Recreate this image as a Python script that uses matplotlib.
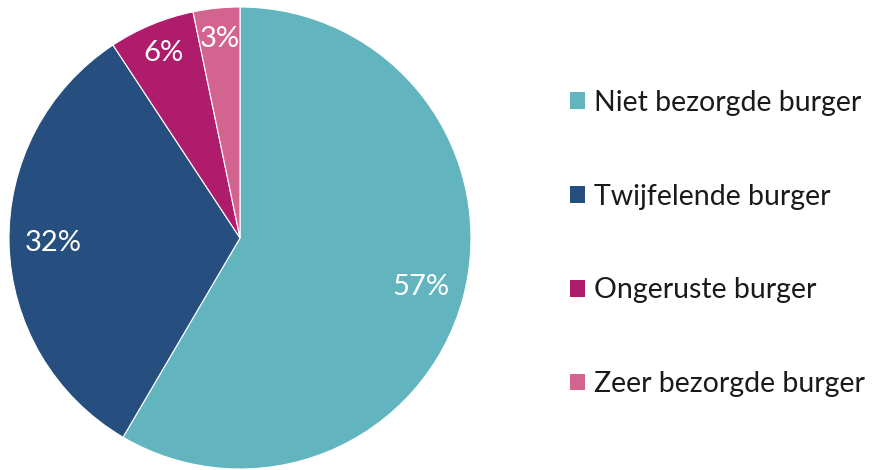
import numpy as np
import matplotlib.pyplot as plt
import matplotlib.patches as mpatches

# --- data ---------------------------------------------------------------
LABELS = ["Niet bezorgde burger", "Twijfelende burger",
          "Ongeruste burger", "Zeer bezorgde burger"]
VALUES = [57.4, 31.7, 5.9, 3.2]
COLORS = ["#62b4bf", "#264f80", "#b01c6c", "#d3638f"]
PCT_DIST = [0.81, 0.81, 0.866, 0.866]

plt.rcParams["font.family"] = ["Lato", "DejaVu Sans"]

fig = plt.figure(figsize=(8.72, 4.70), dpi=100)
W, H = 872, 470
cx, cy, r = 240, 238, 231
ax = fig.add_axes([(cx - r) / W, (H - cy - r) / H, 2 * r / W, 2 * r / H])

wedges, _ = ax.pie(VALUES, colors=COLORS, startangle=90, counterclock=False,
                   radius=1.0,
                   wedgeprops=dict(edgecolor="white", linewidth=0.8))
ax.set_xlim(-1, 1)
ax.set_ylim(-1, 1)
ax.set_aspect("equal")
ax.axis("off")

# percentage labels, placed along each wedge's mid angle
for w, v, d in zip(wedges, VALUES, PCT_DIST):
    ang = np.deg2rad((w.theta1 + w.theta2) / 2)
    ax.text(d * np.cos(ang), d * np.sin(ang), f"{round(v):d}%",
            ha="center", va="center", color="white", fontsize=21)

handles = [mpatches.Patch(facecolor=c, label=l) for c, l in zip(COLORS, LABELS)]
fig.legend(handles=handles, loc="center left", bbox_to_anchor=(0.637, 0.482),
           frameon=False, prop=dict(size=20.5),
           handlelength=0.52, handleheight=0.52,
           handletextpad=0.32, labelspacing=2.38, borderpad=0,
           labelcolor="#1a1a1a")

fig.savefig("out.png", dpi=100)
